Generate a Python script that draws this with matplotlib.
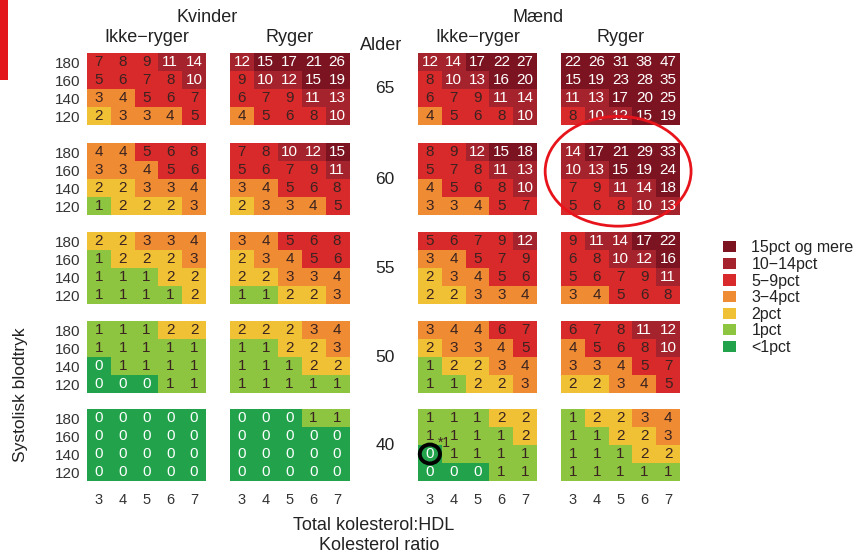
"""SCORE-style risk chart: 10-year risk by sex, smoking, age, blood pressure and cholesterol ratio."""

import matplotlib.pyplot as plt
import numpy as np
from matplotlib.colors import BoundaryNorm, ListedColormap
from matplotlib.patches import Ellipse, Patch, Rectangle

plt.rcParams["font.family"] = ["Liberation Sans", "DejaVu Sans"]

W, H = 858, 557

ratios = [3, 4, 5, 6, 7]
pressures = [180, 160, 140, 120]
ages = [65, 60, 55, 50, 40]
groups = ["Ikke\u2212ryger", "Ryger", "Ikke\u2212ryger", "Ryger"]

legend_labels = ["15pct og mere", "10\u221214pct", "5\u22129pct", "3\u22124pct", "2pct", "1pct", "<1pct"]
legend_colors = ["#7b1420", "#a5232c", "#d8292b", "#ee8b33", "#f1c135", "#8dc540", "#21a24b"]
bounds = [-0.5, 0.5, 1.5, 2.5, 4.5, 9.5, 14.5, 100]

# rows: 180, 160, 140, 120 ; columns: ratio 3..7
women_nonsmoker = {
    65: [[7, 8, 9, 11, 14], [5, 6, 7, 8, 10], [3, 4, 5, 6, 7], [2, 3, 3, 4, 5]],
    60: [[4, 4, 5, 6, 8], [3, 3, 4, 5, 6], [2, 2, 3, 3, 4], [1, 2, 2, 2, 3]],
    55: [[2, 2, 3, 3, 4], [1, 2, 2, 2, 3], [1, 1, 1, 2, 2], [1, 1, 1, 1, 2]],
    50: [[1, 1, 1, 2, 2], [1, 1, 1, 1, 1], [0, 1, 1, 1, 1], [0, 0, 0, 1, 1]],
    40: [[0, 0, 0, 0, 0], [0, 0, 0, 0, 0], [0, 0, 0, 0, 0], [0, 0, 0, 0, 0]],
}
women_smoker = {
    65: [[12, 15, 17, 21, 26], [9, 10, 12, 15, 19], [6, 7, 9, 11, 13], [4, 5, 6, 8, 10]],
    60: [[7, 8, 10, 12, 15], [5, 6, 7, 9, 11], [3, 4, 5, 6, 8], [2, 3, 3, 4, 5]],
    55: [[3, 4, 5, 6, 8], [2, 3, 4, 5, 6], [2, 2, 3, 3, 4], [1, 1, 2, 2, 3]],
    50: [[2, 2, 2, 3, 4], [1, 1, 2, 2, 3], [1, 1, 1, 2, 2], [1, 1, 1, 1, 1]],
    40: [[0, 0, 0, 1, 1], [0, 0, 0, 0, 0], [0, 0, 0, 0, 0], [0, 0, 0, 0, 0]],
}
men_nonsmoker = {
    65: [[12, 14, 17, 22, 27], [8, 10, 13, 16, 20], [6, 7, 9, 11, 14], [4, 5, 6, 8, 10]],
    60: [[8, 9, 12, 15, 18], [5, 7, 8, 11, 13], [4, 5, 6, 8, 10], [3, 3, 4, 5, 7]],
    55: [[5, 6, 7, 9, 12], [3, 4, 5, 7, 9], [2, 3, 4, 5, 6], [2, 2, 3, 3, 4]],
    50: [[3, 4, 4, 6, 7], [2, 3, 3, 4, 5], [1, 2, 2, 3, 4], [1, 1, 2, 2, 3]],
    40: [[1, 1, 1, 2, 2], [1, 1, 1, 1, 2], [0, 1, 1, 1, 1], [0, 0, 0, 1, 1]],
}
men_smoker = {
    65: [[22, 26, 31, 38, 47], [15, 19, 23, 28, 35], [11, 13, 17, 20, 25], [8, 10, 12, 15, 19]],
    60: [[14, 17, 21, 29, 33], [10, 13, 15, 19, 24], [7, 9, 11, 14, 18], [5, 6, 8, 10, 13]],
    55: [[9, 11, 14, 17, 22], [6, 8, 10, 12, 16], [5, 6, 7, 9, 11], [3, 4, 5, 6, 8]],
    50: [[6, 7, 8, 11, 12], [4, 5, 6, 8, 10], [3, 3, 4, 5, 7], [2, 2, 3, 4, 5]],
    40: [[1, 2, 2, 3, 4], [1, 1, 2, 2, 3], [1, 1, 1, 2, 2], [1, 1, 1, 1, 1]],
}
panels = [women_nonsmoker, women_smoker, men_nonsmoker, men_smoker]

# panel placement in pixels
col_left = [87, 230, 418, 561]
row_top = [53, 143, 232, 321, 409]
pw, ph = 119, 72

cmap = ListedColormap(legend_colors[::-1])
norm = BoundaryNorm(bounds, cmap.N)
text_dark = "#3a2320"


def frac(x, y):
    return x / W, 1 - y / H


fig = plt.figure(figsize=(W / 100, H / 100), dpi=100)
axes = {}
for ci, data in enumerate(panels):
    for ri, age in enumerate(ages):
        left, bottom = frac(col_left[ci], row_top[ri] + ph)
        ax = fig.add_axes([left, bottom, pw / W, ph / H])
        vals = np.array(data[age])
        ax.imshow(vals, cmap=cmap, norm=norm, aspect="auto", interpolation="nearest",
                  extent=(ratios[0] - 0.5, ratios[-1] + 0.5, -0.5, len(pressures) - 0.5))
        for i in range(vals.shape[0]):
            for j in range(vals.shape[1]):
                v = vals[i, j]
                color = "white" if (v == 0 or v >= 10) else text_dark
                ax.text(ratios[j], len(pressures) - 1 - i, str(v), ha="center", va="center",
                        fontsize=11, color=color)
        ax.set_xlim(ratios[0] - 0.5, ratios[-1] + 0.5)
        ax.set_ylim(-0.5, len(pressures) - 0.5)
        for s in ax.spines.values():
            s.set_visible(False)
        ax.tick_params(length=0, labelsize=11, colors="#333333")
        if ri == len(ages) - 1:
            ax.set_xticks(ratios)
            ax.tick_params(axis="x", pad=9, labelsize=10.5)
        else:
            ax.set_xticks([])
        if ci == 0:
            ax.set_yticks(range(len(pressures))[::-1])
            ax.set_yticklabels([str(p) for p in pressures])
            ax.tick_params(axis="y", pad=5)
        else:
            ax.set_yticks([])
        axes[(ci, ri)] = ax

# headers
fig.text(*frac(207, 18), "Kvinder", ha="center", va="center", fontsize=13, color="#222222")
fig.text(*frac(538, 18), "M\u00e6nd", ha="center", va="center", fontsize=13, color="#222222")
for ci, g in enumerate(groups):
    fig.text(*frac(col_left[ci] + pw / 2, 38), g, ha="center", va="center", fontsize=13, color="#222222")
fig.text(*frac(381, 46), "Alder", ha="center", va="center", fontsize=13, color="#222222")
for ri, age in enumerate(ages):
    fig.text(*frac(385, row_top[ri] + ph / 2), str(age), ha="center", va="center",
             fontsize=12.5, color="#222222")

fig.text(*frac(21, 395), "Systolisk blodtryk", rotation=90, ha="center", va="center",
         fontsize=12.5, color="#222222")
fig.text(*frac(374, 525), "Total kolesterol:HDL", ha="center", va="center", fontsize=13, color="#222222")
fig.text(*frac(379, 545), "Kolesterol ratio", ha="center", va="center", fontsize=13, color="#222222")

# legend
handles = [Patch(facecolor=c, edgecolor="none") for c in legend_colors]
fig.legend(handles, legend_labels, loc="upper left", bbox_to_anchor=frac(717, 234),
           frameon=False, fontsize=11.5, handlelength=0.8, handleheight=0.7,
           handletextpad=0.95, labelspacing=0.1, borderaxespad=0, labelcolor="#222222")

# annotations
ax_m60 = axes[(3, 1)]
ax_m60.add_patch(Ellipse((4.9, 1.93), 6.13, 6.1, fill=False, edgecolor="#e8141b", lw=2, clip_on=False))
ax_m40 = axes[(2, 4)]
ax_m40.add_patch(Ellipse((3, 1), 0.85, 1.05, fill=False, edgecolor="black", lw=2.8, clip_on=False))
ax_m40.text(3.6, 1.6, "*1", ha="center", va="center", fontsize=10, color=text_dark)

fig.add_artist(Rectangle(frac(0, 80), 8 / W, 80 / H, transform=fig.transFigure,
                         facecolor="#e3161c", edgecolor="none"))

fig.savefig("out.png", dpi=100)
